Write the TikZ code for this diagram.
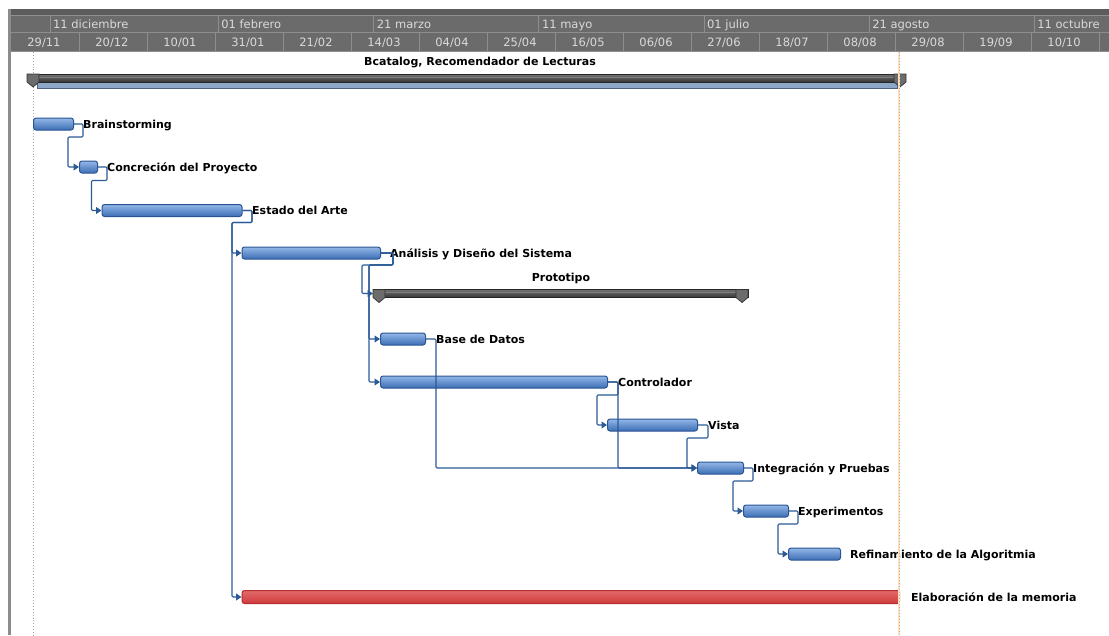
\documentclass[tikz,border=0pt]{standalone}
\usepackage{fontspec}
\setmainfont{DejaVu Sans}
\usetikzlibrary{arrows.meta,calc}

\definecolor{hdrbg}{HTML}{6B6B6B}
\definecolor{hdrdark}{HTML}{5C5C5C}
\definecolor{hdrline}{HTML}{8E8E8E}
\definecolor{hdrtext}{HTML}{DADADA}
\definecolor{barline}{HTML}{2A5592}
\definecolor{bartop}{HTML}{93B7E8}
\definecolor{barmid}{HTML}{6D9AD8}
\definecolor{barbot}{HTML}{3C6DB4}
\definecolor{redline}{HTML}{B32E2E}
\definecolor{redtop}{HTML}{E46A6A}
\definecolor{redmid}{HTML}{F7A6A6}
\definecolor{redbot}{HTML}{CE3C3C}
\definecolor{linkc}{HTML}{2A5A96}
\definecolor{sumdark}{HTML}{363636}
\definecolor{sumcap}{HTML}{6C6C6C}
\definecolor{sumblue}{HTML}{8CA7C8}
\definecolor{sumblueline}{HTML}{4E6482}
\definecolor{todayc}{HTML}{E9A466}
\definecolor{todaybg}{HTML}{F8E0CA}

\begin{document}
\begin{tikzpicture}[x=1pt,y=-1pt,
  hdrtxt/.style={text=hdrtext,inner sep=0pt,font=\fontsize{11.5}{13}\selectfont,text height=8pt,text depth=0pt},
  taskbar/.style={draw=barline,line width=1pt,rounded corners=2.5pt,top color=bartop,middle color=barmid,bottom color=barbot,
    minimum height=12pt,inner sep=0pt,anchor=west},
  redbar/.style={taskbar,draw=redline,top color=redtop,middle color=redmid,bottom color=redbot},
  sumbar/.style={draw=black!85,line width=0.9pt,top color=black!55,bottom color=sumdark,
    minimum height=8pt,inner sep=0pt,anchor=west},
  sumcapst/.style={fill=sumcap,draw=black!80,line width=0.7pt},
  lbl/.style={anchor=west,inner sep=0pt,font=\bfseries\fontsize{11}{13}\selectfont,text height=8pt,text depth=0pt},
  link/.style={draw=linkc,line width=1.1pt,rounded corners=1.2pt,-{Triangle[length=5.5pt,width=7pt]}}
]
\useasboundingbox (0,0) rectangle (1109,635);
\clip (0,0) rectangle (1109,635);

% ---------- time scale header ----------
\fill[hdrbg] (10,9) rectangle (1109,52);
\fill[hdrdark] (10,9) rectangle (1109,15);
\draw[hdrline,line width=0.8pt] (10,15) -- (1109,15) (10,32.5) -- (1109,32.5) (10,51.5) -- (1109,51.5);
\foreach \x/\t [count=\i] in {49.9/11 diciembre,218.2/01 febrero,373.7/21 marzo,538.8/11 mayo,
    703.9/01 julio,869.1/21 agosto,1034.2/11 octubre}{
  \draw[hdrline,line width=0.8pt] (\x,15) -- (\x,32.5);
  \node[hdrtxt,anchor=west] (mon\i) at (\x+3,24) {\t};
}
\foreach \k in {1,...,16}{
  \draw[hdrline,line width=0.8pt] (11+68*\k,32.5) -- (11+68*\k,51.5);
}
\foreach \t [count=\i from 0] in {{29/11},{20/12},{10/01},{31/01},{21/02},{14/03},{04/04},{25/04},
    {16/05},{06/06},{27/06},{18/07},{08/08},{29/08},{19/09},{10/10}}{
  \node[hdrtxt] (wk\i) at (44+68*\i,42) {\t};
}

% left frame edge and project start line
\draw[black!45,line width=2.5pt] (9.5,9) -- (9.5,635);
\draw[black!35,dotted,line width=0.9pt] (33,52) -- (33,635);

% ---------- project summary ----------
\node[font=\bfseries\fontsize{11}{13}\selectfont,inner sep=0pt,text height=8pt,text depth=2pt] (ttl) at (480,62) {Bcatalog, Recomendador de Lecturas};
\fill[sumblue,draw=sumblueline,line width=0.8pt] (37,82) rectangle (897,88);
\node[sumbar,minimum width=867pt] (root) at (33,78) {};
\draw[black!50,line width=0.8pt] (39,77.5) -- (894,77.5);
\draw[sumcapst] (27,74) -- (39,74) -- (39,82) -- (33,87) -- (27,82) -- cycle;
\draw[sumcapst] (894,74) -- (906,74) -- (906,82) -- (900,87) -- (894,82) -- cycle;

% ---------- prototype summary ----------
\node[lbl,anchor=center] (lproto) at (561,277) {Prototipo};
\node[sumbar,minimum width=375pt] (proto) at (373,293.5) {};
\draw[black!50,line width=0.8pt] (385,292.5) -- (736,292.5);
\draw[sumcapst] (373,289.5) -- (385,289.5) -- (385,297.5) -- (379,302.5) -- (373,297.5) -- cycle;
\draw[sumcapst] (736,289.5) -- (748,289.5) -- (748,297.5) -- (742,302.5) -- (736,297.5) -- cycle;

% ---------- tasks ----------
\node[taskbar,minimum width=40pt]  (brain) at (33,124) {};
\node[taskbar,minimum width=18pt]  (concr) at (79,167) {};
\node[taskbar,minimum width=140pt] (estado) at (101.5,210.5) {};
\node[taskbar,minimum width=138.5pt] (anal) at (241.5,253) {};
\node[taskbar,minimum width=45pt]  (base) at (380,339) {};
\node[taskbar,minimum width=227pt] (ctrl) at (380,382) {};
\node[taskbar,minimum width=90pt]  (vista) at (607,425) {};
\node[taskbar,minimum width=46pt]  (integ) at (697,468) {};
\node[taskbar,minimum width=45pt]  (exper) at (743,511) {};
\node[taskbar,minimum width=52pt]  (refin) at (788,554) {};
\node[redbar,minimum width=657.5pt,minimum height=13pt] (memo) at (241.5,597) {};

% task names
\node[lbl] (lbrain)  at (83,124)   {Brainstorming};
\node[lbl] (lconcr)  at (107,167)  {Concreción del Proyecto};
\node[lbl] (lestado) at (252,210.5) {Estado del Arte};
\node[lbl] (lanal)   at (390,253)  {Análisis y Diseño del Sistema};
\node[lbl] (lbase)   at (436,339)  {Base de Datos};
\node[lbl] (lctrl)   at (618,382)  {Controlador};
\node[lbl] (lvista)  at (708,425)  {Vista};
\node[lbl] (linteg)  at (753,468)  {Integración y Pruebas};
\node[lbl] (lexper)  at (798,511)  {Experimentos};
\node[lbl] (lrefin)  at (850,554)  {Refinamiento de la Algoritmia};
\node[lbl] (lmemo)   at (911,597)  {Elaboración de la memoria};

% ---------- dependencies (finish to start) ----------
\draw[link] (brain.east) -- (lbrain.west) -- ++(0,13) -| ($(concr.west)+(-11,0)$) -- (concr.west);
\draw[link] (concr.east) -- (lconcr.west) -- ++(0,13.5) -| ($(estado.west)+(-10,0)$) -- (estado.west);
\draw[link] (estado.east) -- (lestado.west) -- ++(0,12) -| ($(anal.west)+(-9.5,0)$) -- (anal.west);
\draw[link] (estado.east) -- (lestado.west) -- ++(0,12) -| ($(memo.west)+(-9.5,0)$) -- (memo.west);
\draw[link] (anal.east) -- ++(12,0) -- ++(0,12) -| ($(proto.west)+(-11,0)$) -- (proto.west);
\draw[link] (anal.east) -- ++(12,0) -- ++(0,12) -| ($(base.west)+(-11,0)$) -- (base.west);
\draw[link] (anal.east) -- ++(12,0) -- ++(0,12) -| ($(ctrl.west)+(-11,0)$) -- (ctrl.west);
\draw[link] (base.east) -- (lbase.west) |- (integ.west);
\draw[link] (ctrl.east) -- (lctrl.west) -- ++(0,13) -| ($(vista.west)+(-10,0)$) -- (vista.west);
\draw[link] (ctrl.east) -- (lctrl.west) |- (integ.west);
\draw[link] (vista.east) -- (lvista.west) -- ++(0,13) -| ($(integ.west)+(-10,0)$) -- (integ.west);
\draw[link] (integ.east) -- (linteg.west) -- ++(0,13) -| ($(exper.west)+(-10,0)$) -- (exper.west);
\draw[link] (exper.east) -- (lexper.west) -- ++(0,13) -| ($(refin.west)+(-10,0)$) -- (refin.west);

% status date line
\draw[todaybg,line width=1.6pt] (899,52) -- (899,635);
\draw[todayc,dotted,line width=1pt] (899,52) -- (899,635);
\end{tikzpicture}
\end{document}
